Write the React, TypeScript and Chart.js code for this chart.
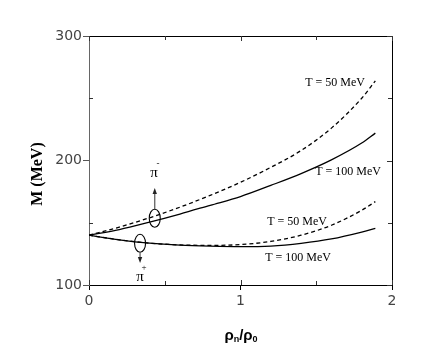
import React, { useEffect, useRef } from 'react';
import { Chart, registerables } from 'chart.js';

Chart.register(...registerables);

// ---- data ----
const densities = [0, 0.2, 0.4, 0.6, 0.8, 1.0, 1.2, 1.4, 1.6, 1.8, 1.89];
const piMinusT50 = [140, 146.5, 154, 162.5, 172, 182.5, 194.5, 208, 226, 250, 264];
const piMinusT100 = [140, 144.5, 150.5, 157, 164, 171, 180, 189.5, 200.5, 214, 222];
const piPlusT50 = [140, 136.3, 133.6, 132.2, 131.8, 132.5, 135, 140, 148, 160, 167];
const piPlusT100 = [140, 136.3, 133.6, 132, 131.2, 130.8, 131.3, 133.5, 137, 142.5, 145.5];

const xMajor = [0, 1, 2];
const yMajor = [100, 200, 300];
const xMinor = [0.5, 1.5];
const yMinor = [150, 250];

const curveLabels = [
  { text: 'T = 50 MeV', x: 1.624, y: 262 },
  { text: 'T = 100 MeV', x: 1.71, y: 190.8 },
  { text: 'T = 50 MeV', x: 1.373, y: 150.6 },
  { text: 'T = 100 MeV', x: 1.38, y: 121.7 },
];

const particleMarks = [
  { name: 'π', sup: '-', cx: 0.434, cy: 153.6, arrowTo: 177.9, labelX: 0.429, labelY: 190 },
  { name: 'π', sup: '+', cx: 0.337, cy: 133.5, arrowTo: 117.7, labelX: 0.337, labelY: 106.4 },
];

const yTitle = 'M (MeV)';

const toPoints = (ys: number[]) => densities.map((d, i) => ({ x: d, y: ys[i] }));

const framePlugin = {
  id: 'frame',
  afterDraw(chart: any) {
    const { ctx, chartArea: a, scales } = chart;
    const xs = scales.x;
    const ys = scales.y;
    ctx.save();
    ctx.strokeStyle = '#000';
    ctx.lineWidth = 1;
    // top & right border
    ctx.beginPath();
    ctx.moveTo(a.left, Math.round(a.top) + 0.5);
    ctx.lineTo(Math.round(a.right) + 0.5, Math.round(a.top) + 0.5);
    ctx.lineTo(Math.round(a.right) + 0.5, a.bottom);
    ctx.stroke();

    ctx.strokeStyle = '#333';
    ctx.beginPath();
    // minor ticks inward on all sides
    xMinor.forEach((v) => {
      const px = Math.round(xs.getPixelForValue(v)) + 0.5;
      ctx.moveTo(px, a.bottom); ctx.lineTo(px, a.bottom - 4);
      ctx.moveTo(px, a.top); ctx.lineTo(px, a.top + 4);
    });
    yMinor.forEach((v) => {
      const py = Math.round(ys.getPixelForValue(v)) + 0.5;
      ctx.moveTo(a.left, py); ctx.lineTo(a.left + 4, py);
      ctx.moveTo(a.right, py); ctx.lineTo(a.right - 4, py);
    });
    // major ticks inward on bottom/top/right
    xMajor.forEach((v) => {
      const px = Math.round(xs.getPixelForValue(v)) + 0.5;
      ctx.moveTo(px, a.bottom); ctx.lineTo(px, a.bottom - 5);
      ctx.moveTo(px, a.top); ctx.lineTo(px, a.top + 5);
    });
    yMajor.forEach((v) => {
      const py = Math.round(ys.getPixelForValue(v)) + 0.5;
      ctx.moveTo(a.right, py); ctx.lineTo(a.right - 5, py);
    });
    ctx.stroke();

    // curve labels
    ctx.fillStyle = '#000';
    ctx.font = '12px "Liberation Serif", serif';
    ctx.textAlign = 'center';
    ctx.textBaseline = 'middle';
    curveLabels.forEach((l) => {
      ctx.fillText(l.text, xs.getPixelForValue(l.x), ys.getPixelForValue(l.y));
    });

    // particle circles, arrows, labels
    particleMarks.forEach((m) => {
      const cx = xs.getPixelForValue(m.cx);
      const cy = ys.getPixelForValue(m.cy);
      const rx = 5.5;
      const ry = 9;
      ctx.strokeStyle = '#000';
      ctx.lineWidth = 1.1;
      ctx.beginPath();
      ctx.ellipse(cx, cy, rx, ry, 0, 0, Math.PI * 2);
      ctx.stroke();
      const tipY = ys.getPixelForValue(m.arrowTo);
      const up = tipY < cy;
      const startY = up ? cy - ry : cy + ry;
      ctx.strokeStyle = '#555';
      ctx.lineWidth = 1.2;
      ctx.beginPath();
      ctx.moveTo(cx, startY);
      ctx.lineTo(cx, up ? tipY + 4 : tipY - 4);
      ctx.stroke();
      ctx.fillStyle = '#222';
      ctx.beginPath();
      ctx.moveTo(cx, tipY);
      ctx.lineTo(cx - 2.2, up ? tipY + 6 : tipY - 6);
      ctx.lineTo(cx + 2.2, up ? tipY + 6 : tipY - 6);
      ctx.closePath();
      ctx.fill();
      const lx = xs.getPixelForValue(m.labelX);
      const ly = ys.getPixelForValue(m.labelY);
      ctx.fillStyle = '#000';
      ctx.font = '15px "Liberation Serif", serif';
      ctx.textAlign = 'center';
      ctx.textBaseline = 'middle';
      ctx.fillText(m.name, lx, ly);
      ctx.font = '9px "Liberation Serif", serif';
      ctx.fillText(m.sup, lx + 4, ly - 9);
    });

    // y title
    ctx.save();
    ctx.translate(a.left - 51.5, (a.top + a.bottom) / 2 + 13.5);
    ctx.rotate(-Math.PI / 2);
    ctx.font = 'bold 16px "Liberation Serif", serif';
    ctx.fillStyle = '#000';
    ctx.textAlign = 'center';
    ctx.textBaseline = 'middle';
    ctx.fillText(yTitle, 0, 0);
    ctx.restore();

    // x title  ρn/ρ0
    const tx = (a.left + a.right) / 2 + 0.5;
    const ty = a.bottom + 51;
    const big = 'bold 15px "Liberation Sans", sans-serif';
    const small = 'bold 9px "Liberation Sans", sans-serif';
    const parts = [
      { t: 'ρ', f: big, dy: 0 },
      { t: 'n', f: small, dy: 4 },
      { t: '/', f: big, dy: 0 },
      { t: 'ρ', f: big, dy: 0 },
      { t: '0', f: small, dy: 4 },
    ];
    let total = 0;
    parts.forEach((p) => { ctx.font = p.f; total += ctx.measureText(p.t).width; });
    let cur = tx - total / 2;
    ctx.textAlign = 'left';
    ctx.textBaseline = 'middle';
    ctx.fillStyle = '#000';
    parts.forEach((p) => {
      ctx.font = p.f;
      ctx.fillText(p.t, cur, ty + p.dy);
      cur += ctx.measureText(p.t).width;
    });
    ctx.restore();
  },
};

export default function App() {
  const ref = useRef<HTMLCanvasElement | null>(null);
  useEffect(() => {
    if (!ref.current) return;
    const line = (data: number[], dash: number[]) => ({
      data: toPoints(data),
      borderColor: '#000',
      borderWidth: 1.3,
      borderDash: dash,
      pointRadius: 0,
      showLine: true,
      fill: false,
      tension: 0.4,
      cubicInterpolationMode: 'monotone' as const,
    });
    const chart = new Chart(ref.current, {
      type: 'scatter',
      data: {
        datasets: [
          line(piMinusT50, [4, 3]),
          line(piMinusT100, []),
          line(piPlusT50, [4, 3]),
          line(piPlusT100, []),
        ],
      },
      options: {
        responsive: false,
        animation: false,
        layout: { padding: { top: 36, right: 44, left: 0, bottom: 0 } },
        plugins: { legend: { display: false }, tooltip: { enabled: false } },
        scales: {
          x: {
            type: 'linear',
            min: 0,
            max: 2,
            afterFit: (s: any) => { s.height = 69; },
            afterBuildTicks: (s: any) => { s.ticks = xMajor.map((v) => ({ value: v })); },
            grid: { display: true, drawOnChartArea: false, drawTicks: true, tickLength: 5, color: '#000' },
            border: { display: true, color: '#000', width: 1 },
            ticks: { padding: 3, color: '#444', font: { family: '"DejaVu Sans", sans-serif', size: 14 } },
          },
          y: {
            type: 'linear',
            min: 100,
            max: 300,
            afterFit: (s: any) => { s.width = 89; },
            afterBuildTicks: (s: any) => { s.ticks = yMajor.map((v) => ({ value: v })); },
            grid: { display: true, drawOnChartArea: false, drawTicks: true, tickLength: 6, color: '#555' },
            border: { display: true, color: '#666', width: 1 },
            ticks: { padding: 1, color: '#444', font: { family: '"DejaVu Sans", sans-serif', size: 14 } },
          },
        },
      },
      plugins: [framePlugin],
    });
    return () => chart.destroy();
  }, []);
  return (
    <div style={{ position: 'absolute', left: 0, top: 0, width: 436, height: 354, background: '#fff' }}>
      <canvas ref={ref} width={436} height={354} />
    </div>
  );
}
